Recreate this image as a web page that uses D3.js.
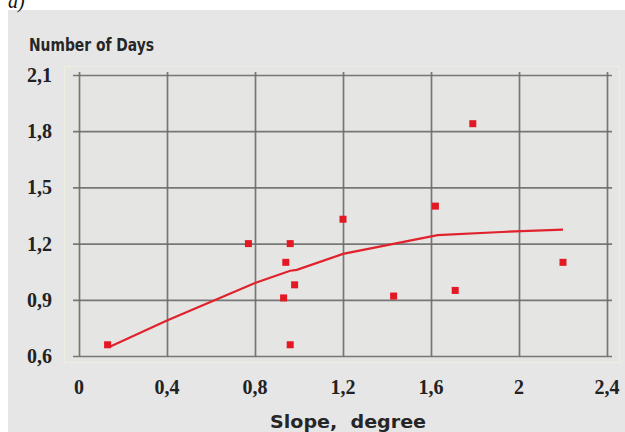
<!DOCTYPE html>
<html><head><meta charset="utf-8">
<script src="https://cdn.jsdelivr.net/npm/d3@7/dist/d3.min.js"></script>
<style>html,body{margin:0;padding:0;background:#fff;}svg{display:block;}</style>
</head><body>
<svg id="c" width="625" height="432"></svg>
<script>
const xTicks = [0, 0.4, 0.8, 1.2, 1.6, 2, 2.4];
const yTicks = [0.6, 0.9, 1.2, 1.5, 1.8, 2.1];
const pointX = [0.13, 0.77, 0.96, 0.94, 0.98, 0.93, 0.96, 1.20, 1.43, 1.62, 1.71, 1.79, 2.20];
const pointY = [0.66, 1.20, 1.20, 1.10, 0.98, 0.91, 0.66, 1.33, 0.92, 1.40, 0.95, 1.84, 1.10];
const trendX = [0.14, 0.40, 0.80, 0.96, 0.99, 1.20, 1.63, 1.92, 2.20];
const trendY = [0.65, 0.79, 0.99, 1.055, 1.06, 1.145, 1.245, 1.262, 1.275];
const yTitle = "Number of Days";
const xTitle = "Slope,  degree";
const panel = "a)";

const fmt = v => String(v).replace('.', ',');
const svg = d3.select('#c');
const x = d3.scaleLinear().domain([0, 2.4]).range([79, 607]);
const y = d3.scaleLinear().domain([0.6, 2.1]).range([356, 75]);

svg.append('rect').attr('x', 8).attr('y', 10).attr('width', 617).attr('height', 422).attr('fill', '#e6e6e6');
svg.append('rect').attr('x', 64.5).attr('y', 66.5).attr('width', 555).attr('height', 296)
  .attr('fill', '#e5e5e4').attr('stroke', '#efefdf').attr('stroke-width', 1);

svg.append('text').attr('x', 8).attr('y', 8).attr('font-family', 'Liberation Serif')
  .attr('font-style', 'italic').attr('font-size', 20).attr('fill', '#111').text(panel);

// grid via axes
const gy = svg.append('g').attr('transform', `translate(${x(2.4)+5},0)`)
  .call(d3.axisLeft(y).tickValues(yTicks).tickSize(x(2.4) - x(0) + 11).tickFormat(''));
gy.select('.domain').remove();
gy.selectAll('line').attr('stroke', '#6a6a6a').attr('stroke-width', 1.7).attr('opacity', 0.9);

const gx = svg.append('g').attr('transform', `translate(0,${y(0.6)})`)
  .call(d3.axisTop(x).tickValues(xTicks).tickSize(y(0.6) - y(2.1) + 3).tickFormat(''));
gx.select('.domain').remove();
gx.selectAll('line').attr('stroke', '#6a6a6a').attr('stroke-width', 1.7).attr('opacity', 0.9);

// tick labels
svg.append('g').selectAll('text').data(yTicks).join('text')
  .attr('x', 52).attr('y', d => y(d)).attr('dy', '0.35em').attr('text-anchor', 'end')
  .attr('font-family', 'Liberation Serif').attr('font-weight', 'bold').attr('font-size', 20)
  .attr('fill', '#222').text(fmt);
svg.append('g').selectAll('text').data(xTicks).join('text')
  .attr('x', d => x(d)).attr('y', 394).attr('text-anchor', 'middle')
  .attr('font-family', 'Liberation Serif').attr('font-weight', 'bold').attr('font-size', 20)
  .attr('fill', '#222').text(fmt);

// titles
svg.append('text').attr('x', 29).attr('y', 51).attr('font-family', 'DejaVu Sans')
  .attr('font-weight', 'bold').attr('font-size', 18).attr('fill', '#262626')
  .attr('textLength', 125).attr('lengthAdjust', 'spacingAndGlyphs').text(yTitle);
svg.append('text').attr('x', 270).attr('y', 428).attr('font-family', 'DejaVu Sans')
  .attr('font-weight', 'bold').attr('font-size', 18).attr('fill', '#262626')
  .attr('xml:space', 'preserve').style('white-space', 'pre')
  .attr('textLength', 156).attr('lengthAdjust', 'spacingAndGlyphs').text(xTitle);

// trend line
const line = d3.line().x(d => x(d[0])).y(d => y(d[1]));
svg.append('path').datum(d3.zip(trendX, trendY)).attr('d', line)
  .attr('fill', 'none').attr('stroke', '#e0222c').attr('stroke-width', 2.2);

// points
svg.append('g').selectAll('rect').data(d3.zip(pointX, pointY)).join('rect')
  .attr('x', d => x(d[0]) - 3.5).attr('y', d => y(d[1]) - 3.5)
  .attr('width', 7).attr('height', 7).attr('fill', '#e31822');
</script>
</body></html>
